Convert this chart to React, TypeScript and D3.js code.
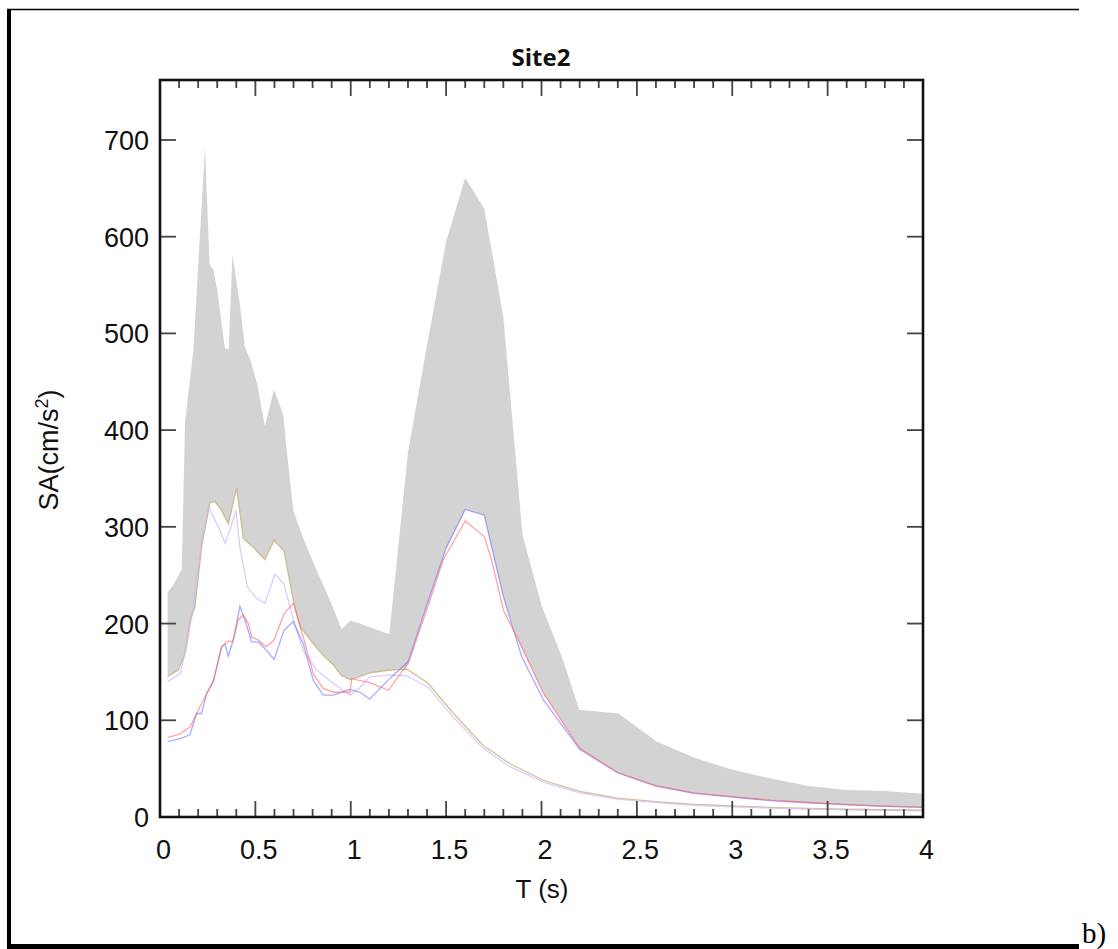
import React from 'react';
import * as d3 from 'd3';

type P = [number, number];

const xTicks = [0, 0.5, 1, 1.5, 2, 2.5, 3, 3.5, 4];
const xTickLabels = ['0', '0.5', '1', '1.5', '2', '2.5', '3', '3.5', '4'];
const yTicks = [0, 100, 200, 300, 400, 500, 600, 700];
const yTickLabels = ['0', '100', '200', '300', '400', '500', '600', '700'];

const bandUpper: P[] = [
  [0.04, 232], [0.07, 240], [0.114, 256], [0.131, 407], [0.175, 483], [0.236, 692],
  [0.26, 571], [0.28, 566], [0.3, 545], [0.34, 485], [0.36, 483], [0.38, 581],
  [0.42, 528], [0.445, 486], [0.473, 473], [0.508, 449], [0.55, 404], [0.598, 442],
  [0.646, 416], [0.664, 380], [0.699, 317], [0.751, 288], [0.821, 255], [0.891, 224],
  [0.952, 194], [0.996, 203], [1.048, 200], [1.118, 195], [1.202, 189], [1.3, 377],
  [1.4, 488], [1.5, 595], [1.6, 661], [1.7, 629], [1.8, 517], [1.9, 292], [2.0, 219],
  [2.113, 162], [2.198, 111], [2.403, 107], [2.604, 78], [2.805, 61], [2.997, 49],
  [3.198, 40], [3.4, 32], [3.6, 28], [3.8, 27], [4.0, 24],
];

const bandLower: P[] = [
  [0.04, 145], [0.096, 152], [0.131, 169], [0.157, 203], [0.183, 217], [0.218, 279],
  [0.262, 325], [0.288, 326], [0.323, 317], [0.358, 303], [0.402, 340], [0.437, 288],
  [0.489, 279], [0.55, 266], [0.598, 286], [0.65, 275], [0.699, 224], [0.734, 197],
  [0.804, 179], [0.856, 167], [0.909, 157], [0.952, 146], [0.996, 142], [1.048, 145],
  [1.1, 149], [1.206, 152], [1.293, 155], [1.302, 161], [1.4, 220], [1.5, 278],
  [1.6, 318], [1.7, 312], [1.8, 228], [1.869, 187], [2.01, 128], [2.2, 71], [2.4, 46],
  [2.6, 32.5], [2.8, 25], [3.0, 21], [3.2, 17.5], [3.4, 15], [3.6, 13], [3.8, 11.3],
  [4.0, 10.3],
];

const tanLine: P[] = [
  [0.04, 145], [0.096, 152], [0.131, 169], [0.157, 203], [0.183, 217], [0.218, 279],
  [0.262, 325], [0.288, 326], [0.323, 317], [0.358, 303], [0.402, 340], [0.437, 288],
  [0.489, 279], [0.55, 266], [0.598, 286], [0.65, 275], [0.699, 224], [0.734, 197],
  [0.804, 179], [0.856, 167], [0.909, 157], [0.952, 146], [0.996, 142], [1.048, 145],
  [1.1, 149], [1.206, 152], [1.293, 153], [1.407, 138], [1.538, 107], [1.695, 74],
  [1.835, 55], [2.01, 38], [2.2, 26.5], [2.4, 19.5], [2.6, 16], [2.8, 13], [3.0, 11.4],
  [3.2, 10], [3.4, 9], [3.6, 8], [3.8, 7.5], [4.0, 7],
];

const lavenderLine: P[] = [
  [0.04, 140], [0.105, 148], [0.14, 176], [0.166, 207], [0.218, 285], [0.253, 321],
  [0.306, 300], [0.341, 283], [0.367, 297], [0.398, 317], [0.419, 279], [0.458, 238],
  [0.507, 226], [0.55, 221], [0.603, 251], [0.65, 241], [0.699, 204], [0.751, 172],
  [0.821, 152], [0.909, 138], [0.996, 126], [1.048, 134], [1.1, 145], [1.206, 147],
  [1.293, 146], [1.407, 134], [1.538, 103], [1.695, 71], [1.835, 52], [2.01, 36],
  [2.2, 25], [2.4, 18.5], [2.6, 15], [2.8, 12], [3.0, 10.5], [3.2, 9.2], [3.4, 8.2],
  [3.6, 7.4], [3.8, 6.8], [4.0, 6.3],
];

const blueLine: P[] = [
  [0.04, 78], [0.105, 81], [0.157, 85], [0.192, 107], [0.218, 107], [0.245, 128],
  [0.28, 141], [0.323, 176], [0.341, 179], [0.358, 166], [0.384, 183], [0.419, 218],
  [0.451, 200], [0.481, 181], [0.516, 181], [0.559, 172], [0.598, 163], [0.65, 193],
  [0.699, 202], [0.751, 179], [0.804, 141], [0.856, 126], [0.909, 126], [0.952, 129],
  [0.996, 132], [1.048, 129], [1.1, 122], [1.188, 140], [1.302, 161], [1.4, 220],
  [1.5, 278], [1.6, 318], [1.7, 312], [1.8, 228], [1.896, 166], [2.01, 121], [2.2, 70],
  [2.4, 45.5], [2.6, 32], [2.8, 24.5], [3.0, 20.5], [3.2, 17], [3.4, 14.5], [3.6, 12.5],
  [3.8, 11], [4.0, 10],
];

const redLine: P[] = [
  [0.04, 82], [0.105, 86], [0.157, 93], [0.192, 107], [0.227, 121], [0.28, 140],
  [0.323, 176], [0.358, 182], [0.381, 181], [0.411, 204], [0.437, 209], [0.463, 200],
  [0.481, 186], [0.516, 183], [0.556, 176], [0.598, 183], [0.65, 210], [0.699, 221],
  [0.751, 186], [0.804, 148], [0.856, 133], [0.909, 129], [0.996, 129], [1.005, 143],
  [1.1, 139], [1.197, 131], [1.302, 159], [1.4, 215], [1.485, 266], [1.6, 306],
  [1.7, 290], [1.738, 266], [1.8, 214], [1.869, 187], [2.01, 128], [2.2, 71], [2.4, 46],
  [2.6, 32.5], [2.8, 25], [3.0, 21], [3.2, 17.5], [3.4, 15], [3.6, 13], [3.8, 11.3],
  [4.0, 10.3],
];

const W = 1118;
const H = 949;
const PL = 160, PR = 923, PT = 80, PB = 817;

export default function App() {
  const x = d3.scaleLinear().domain([0, 4]).range([PL, PR]);
  const y = d3.scaleLinear().domain([0, 762]).range([PB, PT]);
  const line = d3.line<P>().x((d) => x(d[0])).y((d) => y(d[1]));
  const bandPath = line([...bandUpper, ...bandLower.slice().reverse()]) + 'Z';
  const minorX = d3.range(0, 41).map((i) => i / 10).filter((v) => Math.abs(v * 2 - Math.round(v * 2)) > 1e-6);
  const series: { data: P[]; color: string }[] = [
    { data: tanLine, color: 'rgba(200,178,120,0.8)' },
    { data: lavenderLine, color: 'rgba(205,185,255,0.75)' },
    { data: blueLine, color: 'rgba(100,100,255,0.55)' },
    { data: redLine, color: 'rgba(255,90,90,0.55)' },
  ];
  const tickColor = '#444';
  const font = '"Liberation Sans", Arial, sans-serif';
  const fs = 27;
  return (
    <svg width={W} height={H} style={{ position: 'absolute', left: 0, top: 0, background: '#fff' }}>
      <defs>
        <clipPath id="plotclip">
          <rect x={PL} y={PT} width={PR - PL} height={PB - PT} />
        </clipPath>
      </defs>
      <line x1={7} x2={1079} y1={9.5} y2={9.5} stroke="#000" strokeWidth={1.5} />
      <line x1={9} x2={9} y1={9} y2={949} stroke="#000" strokeWidth={4} />
      <line x1={7} x2={1079} y1={946.5} y2={946.5} stroke="#000" strokeWidth={5} />
      <text x={1082} y={943} fontFamily='"Liberation Serif", "Times New Roman", serif' fontSize={29}>b)</text>

      <g clipPath="url(#plotclip)">
        <path d={bandPath} fill="#d3d3d3" stroke="none" />
        {series.map((s, i) => (
          <path key={i} d={line(s.data) || ''} fill="none" stroke={s.color} strokeWidth={1.3} />
        ))}
      </g>

      {xTicks.map((t) => (
        <g key={'xt' + t}>
          <line x1={x(t)} x2={x(t)} y1={PB} y2={PB - 16} stroke={tickColor} strokeWidth={1.8} />
          <line x1={x(t)} x2={x(t)} y1={PT} y2={PT + 16} stroke={tickColor} strokeWidth={1.8} />
        </g>
      ))}
      {minorX.map((t) => (
        <g key={'xm' + t}>
          <line x1={x(t)} x2={x(t)} y1={PB} y2={PB - 8} stroke={tickColor} strokeWidth={1.8} />
          <line x1={x(t)} x2={x(t)} y1={PT} y2={PT + 8} stroke={tickColor} strokeWidth={1.8} />
        </g>
      ))}
      {yTicks.map((t) => (
        <g key={'yt' + t}>
          <line x1={PL} x2={PL + 16} y1={y(t)} y2={y(t)} stroke={tickColor} strokeWidth={1.8} />
          <line x1={PR} x2={PR - 16} y1={y(t)} y2={y(t)} stroke={tickColor} strokeWidth={1.8} />
        </g>
      ))}
      <rect x={PL} y={PT} width={PR - PL} height={PB - PT} fill="none" stroke="#111" strokeWidth={2.6} />

      {xTickLabels.map((lab, i) => (
        <text key={'xl' + lab} x={x(xTicks[i]) + 3.5} y={859} textAnchor="middle" fontFamily={font} fontSize={fs} fill="#111">
          {lab}
        </text>
      ))}
      {yTickLabels.map((lab, i) => (
        <text key={'yl' + lab} x={149} y={y(yTicks[i]) + 10} textAnchor="end" fontFamily={font} fontSize={fs} fill="#111">
          {lab}
        </text>
      ))}

      <text x={541} y={66} textAnchor="middle" fontFamily='"Open Sans", "DejaVu Sans", sans-serif' fontWeight="bold" fontSize={24} fill="#111">
        Site2
      </text>
      <text x={542} y={898} textAnchor="middle" fontFamily={font} fontSize={26} fill="#111">
        T (s)
      </text>
      <text transform={`translate(58, 450) rotate(-90)`} textAnchor="middle" fontFamily={font} fontSize={fs} fill="#111">
        SA(cm/s
        <tspan baselineShift="super" fontSize={18}>2</tspan>
        )
      </text>
    </svg>
  );
}
